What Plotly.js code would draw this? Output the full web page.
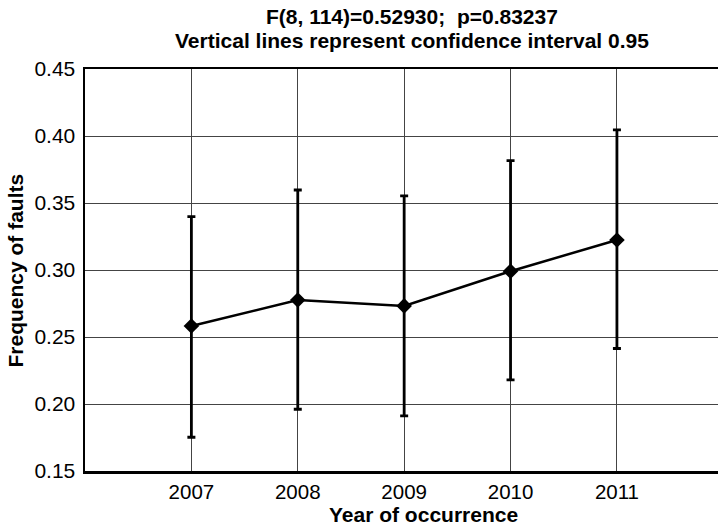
<!DOCTYPE html>
<html>
<head>
<meta charset="utf-8">
<script src="https://cdn.plot.ly/plotly-3.0.1.min.js"></script>
<style>
html, body { margin: 0; padding: 0; overflow: hidden; background: #fff; }
#chart { width: 718px; height: 527px; }
</style>
</head>
<body>
<div id="chart"></div>
<script>
// Data
const years = [2007, 2008, 2009, 2010, 2011];
const meanFreq = [0.2582, 0.2776, 0.2732, 0.2991, 0.3224];
const upperCI = [0.3398, 0.3597, 0.3553, 0.3816, 0.4045];
const lowerCI = [0.1752, 0.1961, 0.1911, 0.2180, 0.2414];
const yTicks = [0.15, 0.20, 0.25, 0.30, 0.35, 0.40, 0.45];

const titleLine1 = "F(8, 114)=0.52930;  p=0.83237";
const titleLine2 = "Vertical lines represent confidence interval 0.95";
const xTitle = "Year of occurrence";
const yTitle = "Frequency of faults";

const errPlus = upperCI.map((u, i) => u - meanFreq[i]);
const errMinus = lowerCI.map((l, i) => meanFreq[i] - l);

const FONT = '"Liberation Sans", Arial, Helvetica, sans-serif';

const trace = {
  x: years,
  y: meanFreq,
  type: 'scatter',
  mode: 'lines+markers',
  line: { color: '#000', width: 2.5 },
  marker: { symbol: 'diamond', size: 12, color: '#000' },
  error_y: {
    type: 'data',
    symmetric: false,
    array: errPlus,
    arrayminus: errMinus,
    color: '#000',
    thickness: 2.8,
    width: 4
  },
  hoverinfo: 'none'
};

const layout = {
  width: 718,
  height: 527,
  margin: { l: 85, r: 0, t: 69, b: 56 },
  paper_bgcolor: '#fff',
  plot_bgcolor: '#fff',
  showlegend: false,
  font: { family: FONT, color: '#000', size: 20 },
  xaxis: {
    range: [2006, 2011.95],
    tickvals: years,
    ticktext: years.map(String),
    ticks: '',
    ticklabelstandoff: 1,
    showgrid: true,
    gridcolor: '#444',
    gridwidth: 1,
    showline: true,
    linecolor: '#000',
    linewidth: 2.5,
    mirror: true,
    zeroline: false,
    tickfont: { family: FONT, size: 20.5, color: '#000' }
  },
  yaxis: {
    range: [0.15, 0.45],
    tickvals: yTicks,
    tickformat: '.2f',
    ticks: '',
    ticklabelstandoff: 3,
    showgrid: true,
    gridcolor: '#444',
    gridwidth: 1,
    showline: true,
    linecolor: '#000',
    linewidth: 2.5,
    mirror: false,
    zeroline: false,
    tickfont: { family: FONT, size: 21, color: '#000' }
  },
  annotations: [
    { text: titleLine1, xref: 'paper', yref: 'paper', x: 0.5166, y: 1.1306,
      xanchor: 'center', yanchor: 'middle', showarrow: false, borderpad: 0,
      font: { family: FONT, size: 21, color: '#000', weight: 'bold' } },
    { text: titleLine2, xref: 'paper', yref: 'paper', x: 0.5166, y: 1.0709,
      xanchor: 'center', yanchor: 'middle', showarrow: false, borderpad: 0,
      font: { family: FONT, size: 21, color: '#000', weight: 'bold' } },
    { text: xTitle, xref: 'paper', yref: 'paper', x: 0.534, y: -0.1075,
      xanchor: 'center', yanchor: 'middle', showarrow: false,
      font: { family: FONT, size: 21, color: '#000', weight: 'bold' } },
    { text: yTitle, xref: 'paper', yref: 'paper', x: -0.1098, y: 0.5,
      xanchor: 'center', yanchor: 'middle', showarrow: false, textangle: -90,
      font: { family: FONT, size: 21, color: '#000', weight: 'bold' } }
  ]
};

Plotly.newPlot('chart', [trace], layout, { displayModeBar: false, staticPlot: true });
</script>
</body>
</html>
